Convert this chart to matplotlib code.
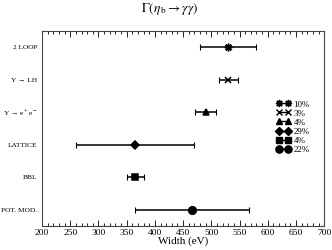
import matplotlib
matplotlib.use("Agg")
import matplotlib.pyplot as plt
from matplotlib.lines import Line2D
from matplotlib.ticker import MultipleLocator

# Gamma(eta_b -> gamma gamma) estimates, top to bottom
methods = ["2 LOOP", "Υ → LH", r"Υ → e$^+$e$^-$", "LATTICE", "BBL", "POT. MOD."]
width_ev = [530, 530, 490, 365, 365, 465]
err_low = [480, 513, 471, 260, 350, 365]
err_high = [580, 547, 509, 470, 380, 567]
rel_err = ["10%", "3%", "4%", "29%", "4%", "22%"]

plt.rcParams.update({
    "font.family": ["Liberation Serif", "DejaVu Serif"],
    "mathtext.fontset": "stix",
    "font.size": 6.5,
})

MARKERS = [(8, 2, 0), "x", "^", "D", "s", "o"]
SIZES = [5.5, 4.5, 5, 4.5, 5, 5.5]

fig = plt.figure(figsize=(3.32, 2.5), dpi=100)
ax = fig.add_axes([0.1265, 0.096, 0.85, 0.78])

handles = []
for i, name in enumerate(methods):
    y = i + 0.5
    lo = width_ev[i] - err_low[i]
    hi = err_high[i] - width_ev[i]
    ax.errorbar(width_ev[i], y, xerr=[[lo], [hi]], fmt="none", ecolor="black",
                elinewidth=1.1, capsize=2.5, capthick=0.8)
    ax.plot(width_ev[i], y, marker=MARKERS[i], markersize=SIZES[i], color="black",
            markeredgewidth=1.1, linestyle="none")
    handles.append(Line2D([0], [0], color="black", lw=1.0, marker=MARKERS[i],
                          markersize=SIZES[i] - 0.3, markeredgewidth=1.0))

ax.set_xlim(200, 700)
ax.set_ylim(len(methods), 0)
ax.set_yticks([i + 0.5 for i in range(len(methods))])
ax.set_yticklabels(methods, fontsize=5.3)
ax.tick_params(axis="y", length=0, pad=3.5)

ax.xaxis.set_major_locator(MultipleLocator(50))
ax.xaxis.set_minor_locator(MultipleLocator(10))
ax.tick_params(axis="x", which="both", direction="in", top=True, labelsize=6.8, pad=2)
ax.tick_params(axis="x", which="major", length=4, width=0.6)
ax.tick_params(axis="x", which="minor", length=2, width=0.6)
for s in ax.spines.values():
    s.set_linewidth(0.8)
    s.set_color("#444444")

ax.set_xlabel("Width (eV)", fontsize=8, labelpad=0)

leg = ax.legend(handles, rel_err, loc="upper left", bbox_to_anchor=(0.83, 0.645),
                frameon=False, numpoints=2, handlelength=1.6, handletextpad=0.3,
                labelspacing=0.08, borderpad=0, borderaxespad=0, fontsize=6.5)

fig.text(0.51, 0.965, r"$\Gamma(\eta_{\,\rm b} \rightarrow \gamma\gamma)$",
         ha="center", va="center", fontsize=9.5)

fig.savefig("out.png", dpi=100)
